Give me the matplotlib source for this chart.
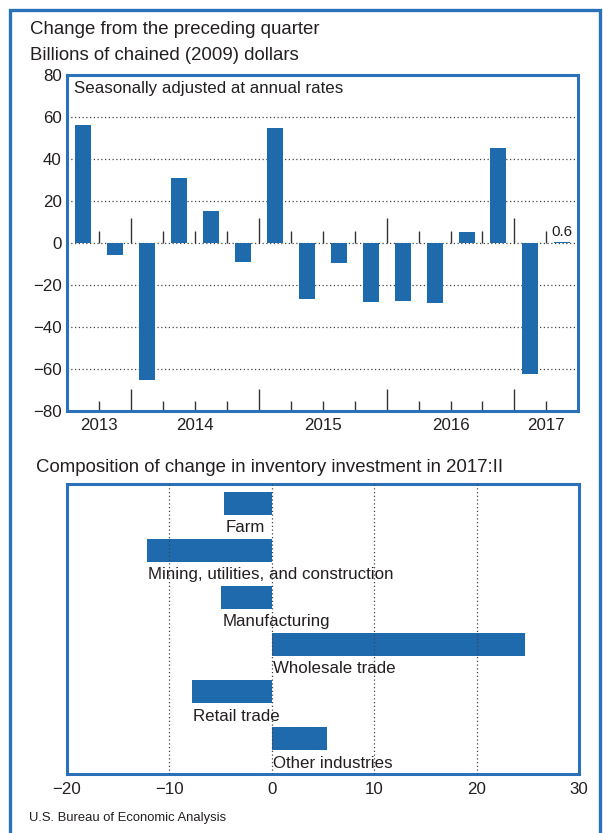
import numpy as np
import matplotlib.pyplot as plt
from matplotlib.patches import Rectangle
from matplotlib.transforms import blended_transform_factory

plt.rcParams['font.family'] = ['Liberation Sans', 'DejaVu Sans']
plt.rcParams['text.color'] = '#231f20'
plt.rcParams['xtick.color'] = '#231f20'
plt.rcParams['ytick.color'] = '#231f20'

# quarterly change in private inventories, billions of chained (2009) dollars
quarters = ['2013:III', '2013:IV',
            '2014:I', '2014:II', '2014:III', '2014:IV',
            '2015:I', '2015:II', '2015:III', '2015:IV',
            '2016:I', '2016:II', '2016:III', '2016:IV',
            '2017:I', '2017:II']
changes = [56.4, -5.6, -65.3, 31.1, 15.4, -9.2, 55.0, -26.8,
           -9.5, -28.3, -27.8, -28.7, 5.2, 45.3, -62.2, 0.6]
years = ['2013', '2014', '2015', '2016', '2017']

# composition of the change in 2017:II
industries = ['Farm', 'Mining, utilities, and construction', 'Manufacturing',
              'Wholesale trade', 'Retail trade', 'Other industries']
contrib = [-4.6, -12.2, -4.9, 24.7, -7.8, 5.4]

blue = '#1f69ad'
frame_blue = '#2b71b9'
fs = 12.2      # labels, ticks
hfs = 13.4     # headings

fig = plt.figure(figsize=(6.03, 8.33), dpi=100)
W, H = 603, 833

def box(l, t, r, b):
    return [l / W, 1 - b / H, (r - l) / W, (b - t) / H]

# outer frame
fig.patches.append(Rectangle((10 / W, -0.05), 590 / W, 1.05 - 10 / H,
                             transform=fig.transFigure, fill=False,
                             ec=frame_blue, lw=2.4))

fig.text(30 / W, 1 - 29 / H, 'Change from the preceding quarter',
         fontsize=hfs, va='center', ha='left')
fig.text(30 / W, 1 - 55 / H, 'Billions of chained (2009) dollars',
         fontsize=hfs, va='center', ha='left')

# ---- top chart ----
ax = fig.add_axes(box(67.3, 75, 578.3, 411))
x = np.arange(len(quarters))
ax.bar(x, changes, width=0.5, color=blue, zorder=3)
ax.set_xlim(-0.5, len(quarters) - 0.5)
ax.set_ylim(-80, 80)
ax.set_yticks(np.arange(-80, 81, 20))
ax.tick_params(axis='y', length=0, pad=4, labelsize=fs)
for g in range(-60, 61, 20):
    ax.axhline(g, color='#444444', lw=0.9, ls=(0, (1, 2)), zorder=1)

# quarter / year boundaries
yr = [q.split(':')[0] for q in quarters]
bounds = x[:-1] + 0.5
major = [b for i, b in enumerate(bounds) if yr[i] != yr[i + 1]]
minor = [b for i, b in enumerate(bounds) if yr[i] == yr[i + 1]]
ax.set_xticks(major)
ax.set_xticks(minor, minor=True)
ax.set_xticklabels([])
ax.tick_params(axis='x', which='major', direction='in', length=16,
               width=1, color='#333333')
ax.tick_params(axis='x', which='minor', direction='in', length=7.4,
               width=1, color='#333333')
ax.vlines(major, 0, 11.8, color='#333333', lw=1, zorder=2)
ax.vlines(minor, 0, 5.7, color='#333333', lw=1, zorder=2)

tr = blended_transform_factory(ax.transData, ax.transAxes)
for y in years:
    idx = [i for i, v in enumerate(yr) if v == y]
    ax.text(np.mean(idx), -0.044, y, transform=tr, ha='center', va='center',
            fontsize=fs)

ax.text(x[-1], changes[-1] + 1.2, '%.1f' % changes[-1], ha='center',
        va='bottom', fontsize=11)
ax.text(0.013, 0.961, 'Seasonally adjusted at annual rates',
        transform=ax.transAxes, ha='left', va='center', fontsize=fs)

for s in ax.spines.values():
    s.set_color(frame_blue)
    s.set_linewidth(2.2)

# ---- bottom chart ----
fig.text(36 / W, 1 - 467 / H,
         'Composition of change in inventory investment in 2017:II',
         fontsize=hfs, va='center', ha='left')

bx = fig.add_axes(box(66.7, 484, 579, 774))
yp = np.arange(len(industries))
bx.barh(yp, contrib, height=0.495, color=blue, zorder=2)
bx.set_xlim(-20, 30)
bx.set_ylim(5.75, -0.41)
bx.set_yticks([])
bx.set_xticks(np.arange(-20, 31, 10))
bx.tick_params(axis='x', length=0, pad=6, labelsize=fs)
for g in range(-10, 21, 10):
    bx.axvline(g, color='#444444', lw=0.9, ls=(0, (1, 2)), zorder=3)
for i, (name, v) in enumerate(zip(industries, contrib)):
    bx.text(min(v, 0) + 0.1, i + 0.36, name, ha='left', va='top',
            fontsize=fs, zorder=4)
for s in bx.spines.values():
    s.set_color(frame_blue)
    s.set_linewidth(2.2)

fig.text(29 / W, 1 - 818 / H, 'U.S. Bureau of Economic Analysis',
         fontsize=9.4, va='center', ha='left')

fig.savefig('out.png', dpi=100)
